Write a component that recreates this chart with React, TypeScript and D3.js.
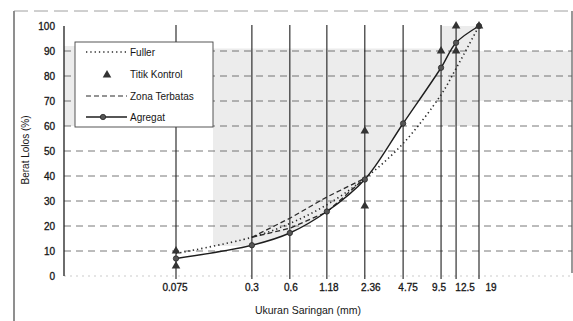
import * as d3 from 'd3';
import React from 'react';

// sieve sizes (mm) and the percent passing
const sieves = [0.075, 0.3, 0.6, 1.18, 2.36, 4.75, 9.5, 12.5, 19];
const sieveLabels = ['0.075', '0.3', '0.6', '1.18', '2.36', '4.75', '9.5', '12.5', '19'];
const fuller = [9, 15.5, 21, 28.5, 39, 53, 72.5, 83, 100];
const agregat = [7, 12.3, 17.2, 25.8, 38.6, 61, 83.3, 93.3, 100];
const kontrolSize = [0.075, 0.075, 2.36, 2.36, 9.5, 12.5, 12.5, 19];
const kontrolVal = [4, 10, 28, 58, 90, 90, 100, 100];
const zonaSize = [0.3, 0.6, 1.18, 2.36];
const zonaLow = [15.5, 19.1, 25.6, 39.1];
const zonaHigh = [15.5, 23.1, 31.6, 39.1];
const yTicks = [0, 10, 20, 30, 40, 50, 60, 70, 80, 90, 100];
// horizontal nudge of the x labels as printed
const labelShift = [-1, 0, 1, 2, 6, 5, -2, 9, 12];

const W = 573;
const H = 321;
const font = 'Liberation Sans, Arial, sans-serif';

export default function App() {
  const x = d3.scaleLog().domain([0.075, 19]).range([176, 479]);
  const y = d3.scaleLinear().domain([0, 100]).range([276, 26]);

  const smooth = d3
    .line<[number, number]>()
    .x((d) => x(d[0]))
    .y((d) => y(d[1]))
    .curve(d3.curveCatmullRom.alpha(0.5));
  const straight = d3
    .line<[number, number]>()
    .x((d) => x(d[0]))
    .y((d) => y(d[1]));

  const fullerPts = sieves.map((s, i) => [s, fuller[i]] as [number, number]);
  const aggPts = sieves.map((s, i) => [s, agregat[i]] as [number, number]);
  const lowPts = zonaSize.map((s, i) => [s, zonaLow[i]] as [number, number]);
  const highPts = zonaSize.map((s, i) => [s, zonaHigh[i]] as [number, number]);

  // bleed-through shade, left of the aggregate curve
  const shade = d3
    .area<[number, number]>()
    .x((d) => x(d[0]))
    .y0(y(91))
    .y1((d) => y(d[1]))
    .curve(d3.curveCatmullRom.alpha(0.5));
  const shadePts = aggPts.filter((p) => p[0] >= 0.3 && p[0] <= 9.5);

  const tri = d3.symbol().type(d3.symbolTriangle).size(32)();
  const ink = '#1e1e1e';
  const txt = '#161616';

  return (
    <svg
      width={W}
      height={H}
      viewBox={`0 0 ${W} ${H}`}
      style={{ position: 'fixed', left: 0, top: 0, background: '#fff' }}
    >
      <g fill="#ececec">
        <path d={shade(shadePts) ?? ''} />
        <rect x={213} y={y(91)} width={x(0.3) - 213 + 1} height={y(12) - y(91)} />
        <rect x={x(9.5)} y={y(100)} width={x(19) - x(9.5)} height={y(60) - y(100)} />
        <rect x={x(19)} y={y(90)} width={571 - x(19)} height={y(70) - y(90)} />
        <rect x={x(4.75)} y={y(90)} width={x(9.5) - x(4.75)} height={y(70) - y(90)} />
        <rect x={64} y={y(92)} width={11} height={y(60) - y(92)} />
      </g>

      {/* outer frame */}
      <line x1={14} x2={14} y1={11} y2={H} stroke="#333" strokeWidth={1.1} />
      <line x1={14} x2={572} y1={11} y2={11} stroke="#888" strokeDasharray="14,6" strokeWidth={0.8} />
      <line x1={572} x2={572} y1={11} y2={273} stroke="#444" strokeWidth={1.1} />

      {/* horizontal grid */}
      {yTicks.slice(1, 10).map((t) => (
        <line
          key={t}
          x1={64}
          x2={572}
          y1={y(t)}
          y2={y(t)}
          stroke="#555"
          strokeWidth={0.8}
          strokeDasharray="7,5"
        />
      ))}
      <line x1={64} x2={572} y1={y(0)} y2={y(0)} stroke="#aaa" strokeWidth={0.6} strokeDasharray="2,4" />

      {/* vertical sieve lines */}
      {sieves.map((s) => (
        <line key={s} x1={x(s)} x2={x(s)} y1={25} y2={y(0) + 3} stroke={ink} strokeWidth={1.1} />
      ))}

      {/* y axis */}
      <line x1={64} x2={64} y1={y(100)} y2={y(0)} stroke={ink} strokeWidth={1.3} />
      {yTicks.map((t) => (
        <text
          key={t}
          x={55}
          y={y(t)}
          dy="0.35em"
          textAnchor="end"
          fontSize={10}
          fontFamily={font}
          fill={txt}
          stroke={txt}
          strokeWidth={0.3}
        >
          {t}
        </text>
      ))}
      <text
        transform={`translate(29,${150}) rotate(-90)`}
        textAnchor="middle"
        fontSize={10}
        fontFamily={font}
        fill={txt}
      >
        Berat Lolos (%)
      </text>

      {/* x labels */}
      {sieves.map((s, i) => (
        <text
          key={s}
          x={x(s) + labelShift[i]}
          y={291}
          textAnchor="middle"
          fontSize={10}
          fontFamily={font}
          fill={txt}
          stroke={txt}
          strokeWidth={0.3}
        >
          {sieveLabels[i]}
        </text>
      ))}
      <text x={308} y={314} textAnchor="middle" fontSize={10.5} fontFamily={font} fill={txt}>
        Ukuran Saringan (mm)
      </text>

      {/* zona terbatas */}
      <path d={straight(lowPts) ?? ''} fill="none" stroke="#2a2a2a" strokeWidth={1.3} strokeDasharray="5,3" />
      <path d={straight(highPts) ?? ''} fill="none" stroke="#2a2a2a" strokeWidth={1.3} strokeDasharray="5,3" />

      {/* fuller */}
      <path d={smooth(fullerPts) ?? ''} fill="none" stroke="#2a2a2a" strokeWidth={1.6} strokeDasharray="1.3,3" />

      {/* agregat */}
      <path d={smooth(aggPts) ?? ''} fill="none" stroke={ink} strokeWidth={1.4} />
      {aggPts.map((p, i) => (
        <circle key={i} cx={x(p[0])} cy={y(p[1])} r={2.7} fill="#555" stroke={ink} strokeWidth={0.7} />
      ))}

      {/* titik kontrol */}
      {kontrolSize.map((s, i) => (
        <path key={i} d={tri ?? ''} transform={`translate(${x(s)},${y(kontrolVal[i])})`} fill="#333" />
      ))}

      {/* legend */}
      <rect x={75} y={42} width={138} height={85} fill="#fff" stroke="#444" strokeWidth={0.9} />
      <line x1={86} x2={127} y1={52} y2={52} stroke="#2a2a2a" strokeWidth={1.5} strokeDasharray="1.3,3" />
      <text x={130} y={52} dy="0.35em" fontSize={10} fontFamily={font} fill={txt}>Fuller</text>
      <path d={tri ?? ''} transform="translate(107,75)" fill="#333" />
      <text x={130} y={74} dy="0.35em" fontSize={10} fontFamily={font} fill={txt}>Titik Kontrol</text>
      <line x1={86} x2={127} y1={96} y2={96} stroke="#2a2a2a" strokeWidth={1.2} strokeDasharray="5,3" />
      <text x={130} y={96} dy="0.35em" fontSize={10} fontFamily={font} fill={txt}>Zona Terbatas</text>
      <line x1={86} x2={127} y1={117} y2={117} stroke={ink} strokeWidth={1.4} />
      <circle cx={103} cy={117} r={2.7} fill="#555" stroke={ink} strokeWidth={0.7} />
      <text x={130} y={117} dy="0.35em" fontSize={10} fontFamily={font} fill={txt}>Agregat</text>
    </svg>
  );
}
